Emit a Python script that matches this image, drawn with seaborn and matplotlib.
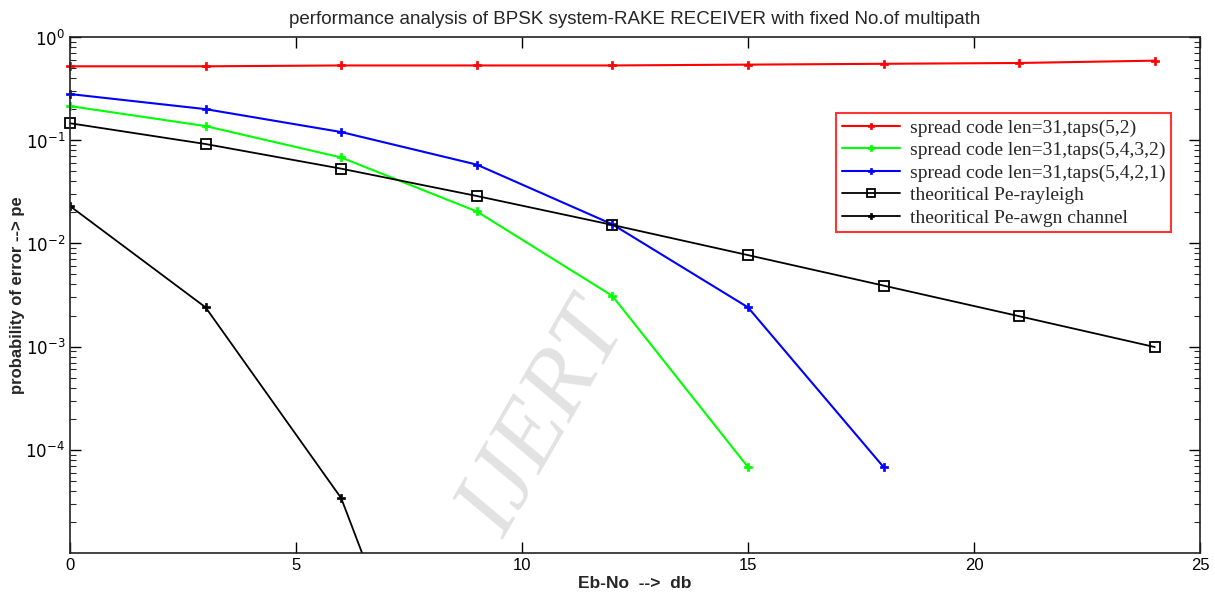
import matplotlib
matplotlib.use("Agg")
import matplotlib.pyplot as plt
import seaborn as sns
import numpy as np
import pandas as pd
from matplotlib.ticker import LogLocator, FixedLocator

# ---- data ----
snr_red = [0, 3, 6, 9, 12, 15, 18, 21, 24]
pe_red = [0.52, 0.52, 0.53, 0.53, 0.53, 0.54, 0.55, 0.56, 0.59]

snr_green = [0, 3, 6, 9, 12, 15]
pe_green = [0.214, 0.137, 0.068, 0.0204, 0.0031, 6.8e-5]

snr_blue = [0, 3, 6, 9, 12, 15, 18]
pe_blue = [0.28, 0.20, 0.12, 0.058, 0.0153, 0.0024, 6.8e-5]

snr_ray = [0, 3, 6, 9, 12, 15, 18, 21, 24]
pe_ray = [0.146, 0.0918, 0.053, 0.0288, 0.0151, 0.0077, 0.0039, 0.00197, 0.00099]

snr_awgn = [0, 3, 6, 9]
pe_awgn = [0.023, 0.0024, 3.4e-5, 1.2e-8]

labels = ["spread code len=31,taps(5,2)",
          "spread code len=31,taps(5,4,3,2)",
          "spread code len=31,taps(5,4,2,1)",
          "theoritical Pe-rayleigh",
          "theoritical Pe-awgn channel"]
x_ticks = [0, 5, 10, 15, 20, 25]

sns.set_theme(style="ticks")
plt.rcParams['font.family'] = ['Liberation Sans', 'DejaVu Sans']

fig = plt.figure(figsize=(12.15, 5.97), dpi=100)
ax = fig.add_axes([70/1215, 44/597, 1130/1215, 516/597])

series = [(snr_red, pe_red, '#ff0000', 'P'),
          (snr_green, pe_green, '#00ff00', 'P'),
          (snr_blue, pe_blue, '#0000ff', 'P'),
          (snr_ray, pe_ray, 'black', 's'),
          (snr_awgn, pe_awgn, 'black', 'P')]
for (xs, ys, c, m), lab in zip(series, labels):
    sns.lineplot(x=xs, y=ys, ax=ax, color=c, label=lab, linewidth=1.5 if c != 'black' else 1.3)
    ln = ax.lines[-1]
    ln.set_marker(m)
    if m == 's':
        ln.set_markersize(7)
        ln.set_markerfacecolor('none')
        ln.set_markeredgecolor('black')
        ln.set_markeredgewidth(1.3)
    else:
        ln.set_markersize(6)
        ln.set_markerfacecolor(c)
        ln.set_markeredgecolor(c)
        ln.set_markeredgewidth(0.5)
    if xs is not snr_awgn:
        ln.set_clip_on(False)

ax.set_yscale('log')
ax.set_xlim(0, 25)
ax.set_ylim(1e-5, 1)
ax.xaxis.set_major_locator(FixedLocator(x_ticks))
ax.set_xticklabels([str(t) for t in x_ticks])
ax.set_yticks([1e-4, 1e-3, 1e-2, 1e-1, 1e0])
ax.set_yticklabels([r'$10^{-4}$', r'$10^{-3}$', r'$10^{-2}$', r'$10^{-1}$', r'$10^{0}$'])
ax.yaxis.set_minor_locator(LogLocator(base=10, subs=np.arange(2, 10), numticks=20))

ax.tick_params(axis='both', which='major', direction='in', length=8, width=1,
               top=True, right=True, labelsize=12, colors='black')
ax.tick_params(axis='y', which='minor', direction='in', length=4, width=0.8,
               left=True, right=True)
for s in ax.spines.values():
    s.set_color('#222222')
    s.set_linewidth(1.2)

ax.set_xlabel('Eb-No  -->  db', fontsize=12.5, fontweight='bold', labelpad=2)
ax.set_ylabel('probability of error --> pe', fontsize=12, fontweight='bold', labelpad=0)
ax.set_title('performance analysis of BPSK system-RAKE RECEIVER with fixed No.of multipath',
             fontsize=13.5, pad=9)

leg = ax.legend(loc='upper left', bbox_to_anchor=(766/1130, (553-113)/516),
                prop={'family': 'Liberation Serif', 'size': 14},
                frameon=True, fancybox=False, borderpad=0.3, labelspacing=0.25,
                handlelength=3.0, handletextpad=0.5, borderaxespad=0)
leg.get_frame().set_edgecolor('#ff0000')
leg.get_frame().set_linewidth(1.5)
for h in leg.legend_handles:
    if h.get_marker() == 's':
        h.set_markersize(6)
    else:
        h.set_markersize(5)

# watermark
fig.text(545/1215, 1 - 420/597, 'IJERT', rotation=60, fontsize=70,
         family='Liberation Serif', color='#e2e2e2', ha='center', va='center',
         fontstyle='italic', zorder=0)

fig.savefig('out.png', dpi=100)
